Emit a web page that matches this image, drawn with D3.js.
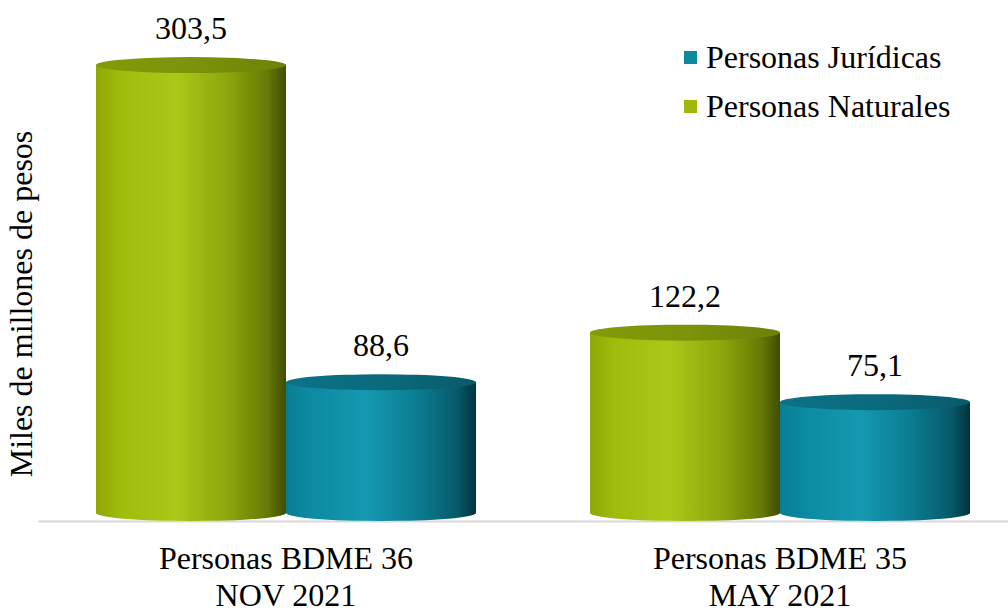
<!DOCTYPE html>
<html><head><meta charset="utf-8">
<script src="https://cdn.jsdelivr.net/npm/d3@7"></script>
<style>body{margin:0;background:#fff}svg{display:block}</style>
</head><body>
<svg id="c" width="1008" height="612"></svg>
<script>
const categories = [["Personas BDME 36","NOV 2021"],["Personas BDME 35","MAY 2021"]];
const seriesNames = ["Personas Naturales","Personas Jurídicas"];
const naturales = [303.5, 122.2];
const juridicas = [88.6, 75.1];
const valueLabels = [["303,5","122,2"],["88,6","75,1"]];
const legendOrder = ["Personas Jurídicas","Personas Naturales"];

const FONT = "'Liberation Serif', 'Times New Roman', serif";
const FS = 32;
const svg = d3.select("#c").attr("font-family", FONT);
const x0 = d3.scaleBand().domain([0,1]).range([38, 1028]).paddingInner(0.2308).paddingOuter(0.1174);
const x1 = d3.scaleBand().domain([0,1]).range([0, x0.bandwidth()]).padding(0);
const y = d3.scaleLinear().domain([0, 350]).range([513, 513 - 350*1.476]);
const ry = 8;

const defs = svg.append("defs");
function grad(id, stops){
  const g = defs.append("linearGradient").attr("id", id).attr("x1","0").attr("x2","1").attr("y1","0").attr("y2","0");
  stops.forEach(s => g.append("stop").attr("offset", s[0]).attr("stop-color", s[1]));
}
grad("gGreen", [[0,"#8ea608"],[0.12,"#9fbb0c"],[0.42,"#abc818"],[0.7,"#8ca50c"],[0.9,"#667a05"],[1,"#404d00"]]);
grad("gTeal", [[0,"#0a7d92"],[0.12,"#0b8aa1"],[0.42,"#1599b0"],[0.7,"#0b7b8f"],[0.9,"#075a6a"],[1,"#03323e"]]);
grad("gGreenTop", [[0,"#819b0a"],[0.5,"#7b9409"],[1,"#6b8207"]]);
grad("gTealTop", [[0,"#0c7287"],[0.5,"#0b6a7d"],[1,"#095b6b"]]);

svg.append("line").attr("x1",38).attr("x2",1008).attr("y1",521.5).attr("y2",521.5)
  .attr("stroke","#d9d9d9").attr("stroke-width",2);

const series = [
  {vals: naturales, fill:"url(#gGreen)", top:"url(#gGreenTop)", labels: valueLabels[0]},
  {vals: juridicas, fill:"url(#gTeal)", top:"url(#gTealTop)", labels: valueLabels[1]}
];

[0,1].forEach(ci => {
  series.forEach((s, si) => {
    const xl = x0(ci) + x1(si), w = x1.bandwidth(), cx = xl + w/2, rx = w/2;
    const yt = y(s.vals[ci]), yb = y(0);
    const g = svg.append("g");
    g.append("path").attr("d",
      `M${xl},${yt} L${xl},${yb} A${rx},${ry} 0 0 0 ${xl+w},${yb} L${xl+w},${yt} Z`)
      .attr("fill", s.fill);
    g.append("ellipse").attr("cx",cx).attr("cy",yt).attr("rx",rx).attr("ry",ry).attr("fill", s.top);
    svg.append("text").attr("x",cx).attr("y",yt - 26).attr("text-anchor","middle")
      .attr("font-size",FS).attr("font-family",FONT).text(s.labels[ci]);
  });
});

categories.forEach((c, ci) => {
  const cx = x0(ci) + x0.bandwidth()/2;
  const t = svg.append("text").attr("text-anchor","middle").attr("font-size",FS).attr("font-family",FONT);
  t.append("tspan").attr("x",cx).attr("y",569).text(c[0]);
  t.append("tspan").attr("x",cx).attr("y",606).text(c[1]);
});

svg.append("text").attr("transform","translate(32,304) rotate(-90)").attr("text-anchor","middle")
  .attr("font-size",FS).attr("font-family",FONT).text("Miles de millones de pesos");

const legColors = {"Personas Jurídicas":"#0e8a9f","Personas Naturales":"#a0b80a"};
legendOrder.forEach((n, i) => {
  const yy = 68 + i*49;
  svg.append("rect").attr("x",684).attr("y",yy-17).attr("width",13).attr("height",13).attr("fill",legColors[n]);
  svg.append("text").attr("x",706).attr("y",yy).attr("font-size",FS).attr("font-family",FONT).text(n);
});
</script>
</body></html>
